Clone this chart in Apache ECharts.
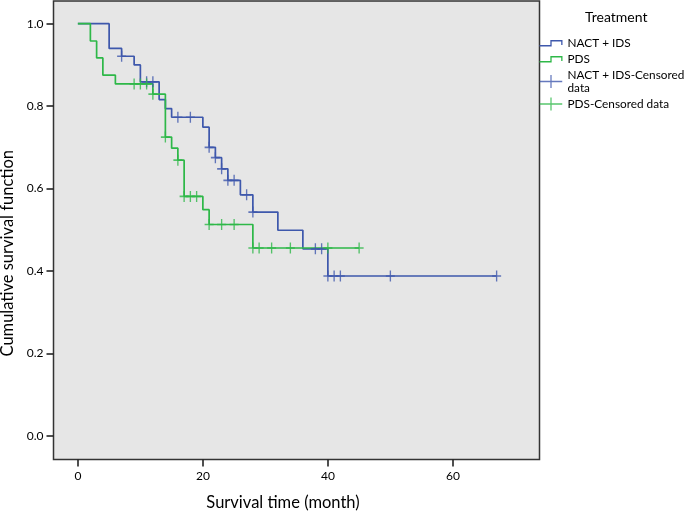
<!DOCTYPE html>
<html>
<head>
<meta charset="utf-8">
<script src="https://cdn.jsdelivr.net/npm/echarts@6/dist/echarts.min.js"></script>
<style>
html,body{margin:0;padding:0;background:#fff;}
#chart{width:685px;height:512px;}
</style>
</head>
<body>
<div id="chart"></div>
<script>
// ---- data ----
const groupNames = ['NACT + IDS', 'PDS'];
const censorNames = ['NACT + IDS-Censored data', 'PDS-Censored data'];

const nactEventTimes = [0, 5, 7, 9, 10, 13, 14, 15, 20, 21, 22, 23, 24, 26, 28, 32, 36, 40];
const nactSurvival   = [1, 0.940, 0.921, 0.900, 0.859, 0.816, 0.794, 0.773, 0.749, 0.700, 0.675, 0.648, 0.620, 0.585, 0.543, 0.499, 0.454, 0.388];
const nactCensorTimes = [7, 11, 12, 16, 18, 21, 22, 23, 24, 25, 27, 28, 38, 39, 40, 41, 42, 50, 67];

const pdsEventTimes = [0, 2, 3, 4, 6, 12, 14, 15, 16, 17, 20, 21, 28];
const pdsSurvival   = [1, 0.958, 0.917, 0.875, 0.854, 0.829, 0.725, 0.698, 0.669, 0.581, 0.549, 0.513, 0.456];
const pdsCensorTimes = [9, 10, 11, 12, 14, 16, 17, 18, 19, 21, 23, 25, 28, 29, 31, 34, 40, 45];

const xTicks = [0, 20, 40, 60];
const yTicks = [0, 0.2, 0.4, 0.6, 0.8, 1.0];

// ---- helpers ----
function stepData(times, surv, endTime) {
  const pts = [];
  for (let i = 0; i < times.length; i++) {
    if (i > 0) pts.push([times[i], surv[i - 1]]);
    pts.push([times[i], surv[i]]);
  }
  pts.push([Math.max(endTime, times[times.length - 1]), surv[surv.length - 1]]);
  return pts;
}
function survAt(times, surv, t) {
  let s = surv[0];
  for (let i = 0; i < times.length; i++) if (times[i] <= t) s = surv[i];
  return s;
}
function censorData(times, surv, ctimes) {
  return ctimes.map(t => [t, survAt(times, surv, t)]);
}

const BLUE = '#3E58AC';
const GREEN = '#2EB848';
const FONT = 'Lato';

const stepIcon = 'path://M0,5 H10.85 V0 H23 V5 H21.7 V1.3 H12.15 V6.3 H0 Z';
const plusIcon = 'path://M0,6 H23 V7.3 H0 Z M10.85,0 H12.15 V13.3 H10.85 Z';
const plusSymbol = 'path://M-5,-0.75 H5 V0.75 H-5 Z M-0.75,-5 H0.75 V5 H-0.75 Z';

const nactEnd = nactCensorTimes[nactCensorTimes.length - 1];
const pdsEnd = pdsCensorTimes[pdsCensorTimes.length - 1];

const chart = echarts.init(document.getElementById('chart'), null, {renderer: 'canvas'});
chart.setOption({
  animation: false,
  backgroundColor: '#ffffff',
  textStyle: {fontFamily: FONT},
  title: {
    text: 'Treatment',
    left: 585, top: 10, padding: 0,
    textStyle: {fontFamily: FONT, fontSize: 14, fontWeight: 'normal', color: '#000'}
  },
  legend: {
    orient: 'vertical',
    left: 539.5, top: 37, padding: 0,
    itemWidth: 23, itemHeight: 13,
    itemGap: 3.5,
    selectedMode: false,
    textStyle: {fontFamily: FONT, fontSize: 11.8, lineHeight: 12.5, color: '#000'},
    formatter: function (name) {
      return name === censorNames[0] ? 'NACT + IDS-Censored\ndata' : name;
    },
    data: [
      {name: groupNames[0], icon: stepIcon, itemStyle: {color: BLUE}},
      {name: groupNames[1], icon: stepIcon, itemStyle: {color: GREEN}},
      {name: censorNames[0], icon: plusIcon, itemStyle: {color: BLUE}},
      {name: censorNames[1], icon: plusIcon, itemStyle: {color: GREEN}}
    ]
  },
  grid: {
    left: 53.5, right: 145.5, top: 1, bottom: 52.5,
    outerBoundsMode: 'none', containLabel: false,
    show: true, backgroundColor: '#e6e6e6', borderColor: '#333', borderWidth: 1.5
  },
  xAxis: {
    type: 'value', min: -3.9, max: 73.86,
    name: 'Survival time (month)', nameLocation: 'middle', nameGap: 35,
    nameTextStyle: {fontFamily: FONT, fontSize: 16.5, color: '#000', padding: [0, 27, 0, 0]},
    axisLine: {show: false, onZero: false},
    splitLine: {show: false},
    axisTick: {show: true, length: 7, customValues: xTicks, lineStyle: {color: '#222', width: 1.6}},
    axisLabel: {customValues: xTicks, margin: 11, fontFamily: FONT, fontSize: 12, color: '#000'}
  },
  yAxis: {
    type: 'value', min: -0.057, max: 1.055,
    name: 'Cumulative survival function', nameLocation: 'middle', nameGap: 37,
    nameTextStyle: {fontFamily: FONT, fontSize: 16.5, color: '#000', padding: [0, 46, 0, 0]},
    axisLine: {show: false, onZero: false},
    splitLine: {show: false},
    axisTick: {show: true, length: 7, customValues: yTicks, lineStyle: {color: '#222', width: 1.6}},
    axisLabel: {customValues: yTicks, margin: 10, fontFamily: FONT, fontSize: 12, color: '#000',
      formatter: v => v.toFixed(1)}
  },
  series: [
    {name: groupNames[0], type: 'line', data: stepData(nactEventTimes, nactSurvival, nactEnd),
      showSymbol: false, lineStyle: {color: BLUE, width: 1.7}, itemStyle: {color: BLUE}, z: 2},
    {name: groupNames[1], type: 'line', data: stepData(pdsEventTimes, pdsSurvival, pdsEnd),
      showSymbol: false, lineStyle: {color: GREEN, width: 1.7}, itemStyle: {color: GREEN}, z: 3},
    {name: censorNames[0], type: 'scatter', data: censorData(nactEventTimes, nactSurvival, nactCensorTimes),
      symbol: plusSymbol, symbolSize: [9, 11], itemStyle: {color: BLUE}, z: 4},
    {name: censorNames[1], type: 'scatter', data: censorData(pdsEventTimes, pdsSurvival, pdsCensorTimes),
      symbol: plusSymbol, symbolSize: [9, 11], itemStyle: {color: GREEN}, z: 5}
  ]
});
</script>
</body>
</html>
